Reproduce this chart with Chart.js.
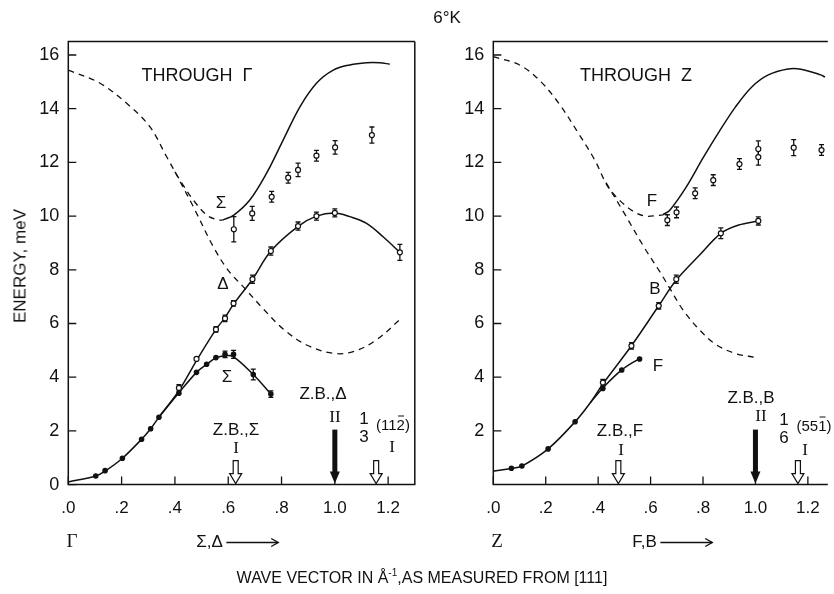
<!DOCTYPE html>
<html>
<head>
<meta charset="utf-8">
<script src="https://cdn.jsdelivr.net/npm/chart.js@4.4.1/dist/chart.umd.min.js"></script>
<style>
html, body { margin: 0; padding: 0; background: #fff; }
#wrap { position: relative; width: 834px; height: 594px; overflow: hidden; font-family: "Liberation Sans", Arial, sans-serif; color: #111; }
canvas { position: absolute; top: 0; }
.t { position: absolute; transform: translate(-50%, -50%); white-space: nowrap; font-size: 17px; line-height: 1; z-index: 2; }
.s { font-family: "Liberation Serif", serif; }
.sm { font-size: 15px; }
.ol { position: relative; }
.ol::before { content: ''; position: absolute; left: 1px; right: 1px; top: 0px; border-top: 1.2px solid #111; }
.arr { vertical-align: middle; margin-left: 3px; }
.frac { display: inline-block; text-align: center; line-height: 1.05; vertical-align: middle; }
</style>
</head>
<body>
<div id="wrap">
  <canvas id="cG" width="420" height="594" style="left:0"></canvas>
  <canvas id="cZ" width="414" height="594" style="left:420px"></canvas>

  <div class="t" style="left:447px;top:17px">6°K</div>
  <div class="t" style="left:20px;top:266px;transform:translate(-50%,-50%) rotate(-90deg)">ENERGY, meV</div>
  <div class="t" style="left:422px;top:577px;font-size:16px">WAVE VECTOR IN Å<sup style="font-size:10px">-1</sup>,AS MEASURED FROM [111]</div>

  <!-- panel Γ -->
  <div class="t" style="left:197px;top:75px;font-size:18px">THROUGH&nbsp;&nbsp;Γ</div>
  <div class="t" style="left:221px;top:202px">Σ</div>
  <div class="t" style="left:223px;top:283px">Δ</div>
  <div class="t" style="left:227px;top:376px">Σ</div>
  <div class="t" style="left:236px;top:429px">Z.B.,Σ</div>
  <div class="t s" style="left:236px;top:447px">I</div>
  <div class="t" style="left:323px;top:393px">Z.B.,Δ</div>
  <div class="t s" style="left:335px;top:416px">II</div>
  <div class="t" style="left:364px;top:428px"><span class="frac">1<br>3</span></div>
  <div class="t sm" style="left:393px;top:424px">(11<span class="ol">2</span>)</div>
  <div class="t s" style="left:392px;top:446px">I</div>
  <div class="t s" style="left:72px;top:540px;font-size:19px">Γ</div>
  <div class="t" style="left:238px;top:541px">Σ,Δ<svg class="arr" width="54" height="10"><line x1="0" y1="5" x2="52" y2="5" stroke="#111" stroke-width="1.4"/><polyline points="45,1 52,5 45,9" fill="none" stroke="#111" stroke-width="1.4"/></svg></div>

  <!-- panel Z -->
  <div class="t" style="left:636px;top:75px;font-size:18px">THROUGH&nbsp;&nbsp;Z</div>
  <div class="t" style="left:652px;top:200px">F</div>
  <div class="t" style="left:655px;top:288px">B</div>
  <div class="t" style="left:658px;top:365px">F</div>
  <div class="t" style="left:620px;top:430px">Z.B.,F</div>
  <div class="t s" style="left:621px;top:449px">I</div>
  <div class="t" style="left:751px;top:397px">Z.B.,B</div>
  <div class="t s" style="left:761px;top:415px">II</div>
  <div class="t" style="left:784px;top:429px"><span class="frac">1<br>6</span></div>
  <div class="t sm" style="left:814px;top:425px">(55<span class="ol">1</span>)</div>
  <div class="t s" style="left:805px;top:449px">I</div>
  <div class="t s" style="left:497px;top:540px;font-size:19px">Z</div>
  <div class="t" style="left:673px;top:541px">F,B<svg class="arr" width="54" height="10"><line x1="0" y1="5" x2="52" y2="5" stroke="#111" stroke-width="1.4"/><polyline points="45,1 52,5 45,9" fill="none" stroke="#111" stroke-width="1.4"/></svg></div>
</div>

<script>
// tick labels
const xTicks = [0, 0.2, 0.4, 0.6, 0.8, 1.0, 1.2];
const xTickLabels = ['.0', '.2', '.4', '.6', '.8', '1.0', '1.2'];
const yTicksG = [0, 2, 4, 6, 8, 10, 12, 14, 16];
const yTicksZ = [2, 4, 6, 8, 10, 12, 14, 16];

// ---- through Γ : curves [q, E]
const gDashA = [[0, 15.44], [0.119, 14.95], [0.219, 14.2], [0.306, 13.33], [0.369, 12.21], [0.419, 11.34],
    [0.469, 10.6], [0.519, 10.04], [0.556, 9.87], [0.579, 9.85]];
const gDashB = [[0.40, 11.65], [0.469, 10.35], [0.544, 8.86], [0.60, 7.98], [0.663, 7.3], [0.731, 6.55],
    [0.806, 5.8], [0.894, 5.2], [0.994, 4.89], [1.069, 4.95], [1.156, 5.39], [1.25, 6.2]];
const gSigmaUp = [[0.579, 9.85], [0.621, 10.04], [0.681, 10.6], [0.744, 11.6], [0.806, 12.83], [0.869, 14.07],
    [0.931, 14.95], [0.994, 15.44], [1.056, 15.63], [1.119, 15.71], [1.169, 15.71], [1.206, 15.66]];
const gDelta = [[0, 0.1], [0.103, 0.32], [0.138, 0.5], [0.203, 0.98], [0.275, 1.69], [0.309, 2.08], [0.34, 2.51],
    [0.415, 3.5], [0.481, 4.62], [0.554, 5.78], [0.588, 6.22], [0.62, 6.72], [0.691, 7.65], [0.76, 8.7],
    [0.862, 9.62], [0.931, 10.0], [1.0, 10.12], [1.056, 9.98], [1.119, 9.73], [1.181, 9.23], [1.244, 8.65]];
const gSigmaLow = [[0.34, 2.51], [0.415, 3.42], [0.481, 4.18], [0.519, 4.48], [0.554, 4.72], [0.588, 4.8],
    [0.62, 4.76], [0.694, 4.1], [0.76, 3.37]];

// ---- through Γ : measured points
const gDotQ = [0.103, 0.138, 0.203, 0.275, 0.309, 0.34, 0.415, 0.481, 0.519, 0.554];
const gDotE = [0.32, 0.52, 0.98, 1.69, 2.08, 2.51, 3.4, 4.18, 4.48, 4.73];
const gSigQ = [0.588, 0.62, 0.694, 0.76];
const gSigE = [4.85, 4.85, 4.1, 3.37];
const gSigErr = [0.12, 0.15, 0.2, 0.12];
const gDelQ = [0.415, 0.481, 0.554, 0.588, 0.62, 0.691, 0.76, 0.862, 0.931, 1.0, 1.244];
const gDelE = [3.6, 4.68, 5.78, 6.19, 6.75, 7.65, 8.7, 9.63, 10.0, 10.12, 8.65];
const gDelErr = [0.12, 0, 0.1, 0.12, 0.1, 0.15, 0.15, 0.15, 0.15, 0.15, 0.3];
const gUpQ = [0.621, 0.69, 0.763, 0.825, 0.862, 0.931, 1.001, 1.139];
const gUpE = [9.51, 10.1, 10.72, 11.43, 11.72, 12.25, 12.56, 13.02];
const gUpErr = [0.47, 0.26, 0.2, 0.2, 0.25, 0.2, 0.25, 0.3];
const gArrowQ = [0.628, 1.0, 1.155];
const gArrowKind = ['open', 'filled', 'open'];

// ---- through Z : curves
const zDashA = [[0, 15.94], [0.1, 15.63], [0.175, 15.07], [0.25, 14.2], [0.325, 13.08], [0.387, 12.09], [0.437, 11.1],
    [0.487, 10.54], [0.537, 10.16], [0.581, 10.0], [0.624, 10.02], [0.647, 10.05]];
const zDashB = [[0.43, 11.25], [0.5, 10.1], [0.574, 8.86], [0.637, 7.9], [0.674, 7.3], [0.724, 6.5], [0.787, 5.76],
    [0.849, 5.22], [0.924, 4.88], [1.0, 4.74]];
const zFUp = [[0.647, 10.05], [0.674, 10.23], [0.737, 11.1], [0.799, 12.15], [0.861, 13.14], [0.924, 14.07],
    [0.987, 14.82], [1.049, 15.26], [1.124, 15.48], [1.174, 15.47], [1.249, 15.26], [1.265, 15.18]];
const zB = [[0, 0.5], [0.069, 0.6], [0.109, 0.69], [0.209, 1.33], [0.312, 2.34], [0.37, 3.05], [0.418, 3.75],
    [0.527, 5.17], [0.631, 6.66], [0.698, 7.62], [0.787, 8.55], [0.868, 9.36], [0.936, 9.67], [1.011, 9.82]];
const zFLow = [[0.37, 3.05], [0.418, 3.6], [0.49, 4.27], [0.558, 4.7]];

// ---- through Z : measured points
const zDotQ = [0.069, 0.109, 0.209, 0.312, 0.418, 0.49, 0.558];
const zDotE = [0.61, 0.69, 1.33, 2.34, 3.58, 4.27, 4.68];
const zBQ = [0.418, 0.527, 0.631, 0.698, 0.868, 1.011];
const zBE = [3.8, 5.17, 6.66, 7.65, 9.36, 9.82];
const zBErr = [0.12, 0.12, 0.12, 0.15, 0.2, 0.15];
const zUpQ = [0.664, 0.699, 0.77, 0.839, 0.939, 1.011, 1.011, 1.146, 1.252];
const zUpE = [9.85, 10.14, 10.85, 11.34, 11.94, 12.2, 12.5, 12.55, 12.46];
const zUpErr = [0.2, 0.2, 0.2, 0.2, 0.2, 0.3, 0.3, 0.3, 0.2];
const zArrowQ = [0.477, 1.0, 1.162];
const zArrowKind = ['open', 'filled', 'open'];

const INK = '#111';

function curve(pts, dashed) {
    return {
        data: pts.map(p => ({ x: p[0], y: p[1] })),
        showLine: true,
        pointRadius: 0,
        borderColor: INK,
        borderWidth: dashed ? 1.3 : 1.5,
        borderDash: dashed ? [6, 5] : [],
        tension: 0.35,
        fill: false
    };
}

function points(qs, es, errs, open) {
    return {
        data: qs.map((q, i) => ({ x: q, y: es[i] })),
        err: errs,
        showLine: false,
        pointRadius: open ? 2.5 : 2.2,
        pointBackgroundColor: open ? '#fff' : INK,
        pointBorderColor: INK,
        pointBorderWidth: 1.2
    };
}

// error bars under the markers
const errorBars = {
    id: 'errorBars',
    beforeDatasetsDraw(chart) {
        const ctx = chart.ctx, ys = chart.scales.y;
        ctx.save();
        ctx.strokeStyle = INK;
        ctx.lineWidth = 1.3;
        chart.data.datasets.forEach((ds, i) => {
            if (!ds.err) return;
            chart.getDatasetMeta(i).data.forEach((el, j) => {
                const e = ds.err[j];
                if (!e) return;
                const v = ds.data[j].y;
                const y1 = ys.getPixelForValue(v + e), y2 = ys.getPixelForValue(v - e);
                ctx.beginPath();
                ctx.moveTo(el.x, y1); ctx.lineTo(el.x, y2);
                ctx.moveTo(el.x - 2.5, y1); ctx.lineTo(el.x + 2.5, y1);
                ctx.moveTo(el.x - 2.5, y2); ctx.lineTo(el.x + 2.5, y2);
                ctx.stroke();
            });
        });
        ctx.restore();
    }
};

// frame, inward ticks and zone boundary arrows
const frame = {
    id: 'frame',
    afterDraw(chart, args, opts) {
        const ctx = chart.ctx, a = chart.chartArea;
        const xs = chart.scales.x, ys = chart.scales.y;
        ctx.save();
        ctx.strokeStyle = INK;
        ctx.lineWidth = 1.5;
        ctx.beginPath();
        ctx.moveTo(a.right, a.top); ctx.lineTo(a.left, a.top); ctx.lineTo(a.left, a.bottom); ctx.lineTo(a.right, a.bottom);
        if (opts.closed) ctx.lineTo(a.right, a.top);
        ctx.stroke();
        ctx.lineWidth = 1.3;
        ctx.beginPath();
        opts.yTicks.forEach(v => {
            const y = ys.getPixelForValue(v);
            ctx.moveTo(a.left, y); ctx.lineTo(a.left + 8, y);
        });
        xTicks.forEach(v => {
            const x = xs.getPixelForValue(v);
            ctx.moveTo(x, a.bottom); ctx.lineTo(x, a.bottom - 8);
        });
        ctx.stroke();

        opts.arrows.forEach((q, i) => {
            const x = xs.getPixelForValue(q), tip = a.bottom - 1;
            ctx.lineWidth = 1.2;
            if (opts.kinds[i] === 'filled') {
                ctx.fillStyle = INK;
                ctx.fillRect(x - 2.5, tip - 54, 5, 43);
                ctx.beginPath();
                ctx.moveTo(x - 5, tip - 12); ctx.lineTo(x + 5, tip - 12); ctx.lineTo(x, tip);
                ctx.closePath(); ctx.fill();
            } else {
                ctx.fillStyle = '#fff';
                ctx.beginPath();
                ctx.moveTo(x - 2.5, tip - 23); ctx.lineTo(x + 2.5, tip - 23); ctx.lineTo(x + 2.5, tip - 10);
                ctx.lineTo(x + 6, tip - 10); ctx.lineTo(x, tip); ctx.lineTo(x - 6, tip - 10); ctx.lineTo(x - 2.5, tip - 10);
                ctx.closePath(); ctx.fill(); ctx.stroke();
            }
        });
        ctx.restore();
    }
};

function makePanel(id, datasets, yTicks, xMax, yWidth, padRight, arrows, kinds, closed) {
    return new Chart(document.getElementById(id), {
        type: 'scatter',
        data: { datasets: datasets },
        options: {
            responsive: false,
            animation: false,
            devicePixelRatio: 1,
            layout: { padding: { left: 0, right: padRight, top: 41.6, bottom: 69.4 } },
            plugins: {
                legend: { display: false },
                tooltip: { enabled: false },
                frame: { yTicks: yTicks, arrows: arrows, kinds: kinds, closed: closed }
            },
            scales: {
                x: {
                    type: 'linear', min: 0, max: xMax,
                    grid: { display: false, drawTicks: false },
                    border: { display: false },
                    afterBuildTicks: s => { s.ticks = xTicks.map(v => ({ value: v })); },
                    afterFit: s => { s.height = 40; },
                    ticks: {
                        padding: 14, color: INK, maxRotation: 0, autoSkip: false,
                        font: { family: 'Liberation Sans', size: 17 },
                        callback: v => xTickLabels[xTicks.indexOf(v)]
                    }
                },
                y: {
                    type: 'linear', min: 0, max: 16.5,
                    grid: { display: false, drawTicks: false },
                    border: { display: false },
                    afterBuildTicks: s => { s.ticks = yTicks.map(v => ({ value: v })); },
                    afterFit: s => { s.width = yWidth; },
                    ticks: {
                        padding: 9, color: INK, autoSkip: false,
                        font: { family: 'Liberation Sans', size: 18 },
                        callback: v => String(v)
                    }
                }
            }
        },
        plugins: [errorBars, frame]
    });
}

makePanel('cG', [
    points(gUpQ, gUpE, gUpErr, true),
    points(gDelQ, gDelE, gDelErr, true),
    points(gSigQ, gSigE, gSigErr, false),
    points(gDotQ, gDotE, null, false),
    curve(gSigmaUp, false),
    curve(gDelta, false),
    curve(gSigmaLow, false),
    curve(gDashA, true),
    curve(gDashB, true)
], yTicksG, 1.3, 68.3, 5, gArrowQ, gArrowKind, true);

makePanel('cZ', [
    points(zUpQ, zUpE, zUpErr, true),
    points(zBQ, zBE, zBErr, true),
    points(zDotQ, zDotE, null, false),
    curve(zFUp, false),
    curve(zB, false),
    curve(zFLow, false),
    curve(zDashA, true),
    curve(zDashB, true)
], yTicksZ, 1.276, 73.3, 0, zArrowQ, zArrowKind, false);
</script>
</body>
</html>
